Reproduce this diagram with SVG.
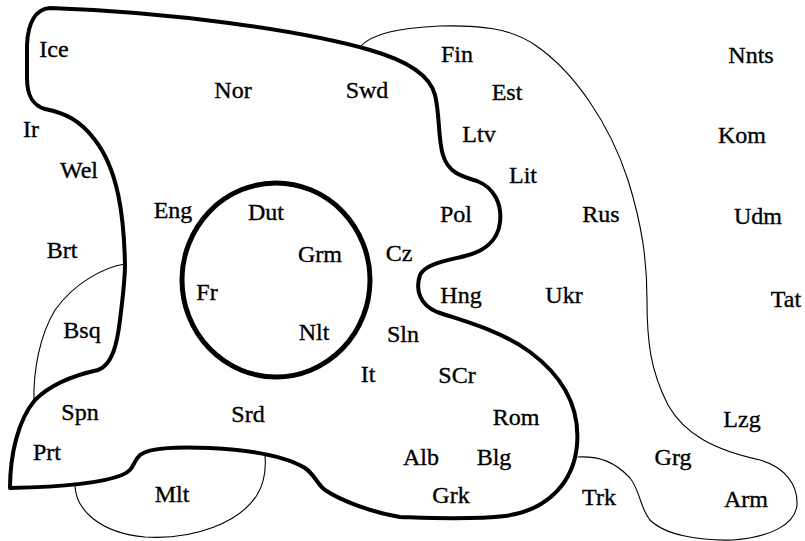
<svg xmlns="http://www.w3.org/2000/svg" width="805" height="541" viewBox="0 0 805 541">
<style>
.thick{fill:none;stroke:#000;stroke-width:4;stroke-linejoin:round;stroke-linecap:round}
.circ{fill:none;stroke:#000;stroke-width:5}
.thin{fill:none;stroke:#000;stroke-width:1.1;stroke-linecap:round}
text{font-family:"Liberation Serif","Times New Roman",serif;font-size:24px;fill:#000;stroke:#000;stroke-width:0.35;text-anchor:middle}
</style>
<rect width="805" height="541" fill="#fff"/>
<g id="regions">
<path id="thin-east" class="thin" d="M 360,47 C 372,33 400,28 440,26 C 480,25 510,28 535,45 C 575,72 610,125 628,180 C 642,225 647,260 647,300 C 647,340 650,370 668,405 C 685,435 715,450 760,460 C 785,467 798,485 797,505 C 795,525 770,537 733,540 C 700,541 665,535 650,520 C 640,508 640,490 630,478 C 615,462 600,456 578,457"/>
<path id="thin-bsq" class="thin" d="M 125,264 C 105,267 75,282 55,310 C 40,335 33,370 34,402"/>
<path id="thin-mlt" class="thin" d="M 75,486 C 76,510 100,533 145,537 C 195,540 240,522 257,495 C 265,482 266,468 265,456"/>
<path id="sae" class="thick" d="M 50,8 C 170,12 300,30 370,50 C 405,60 430,75 435,95 C 440,115 438,140 443,155 C 448,172 460,176 477,181 C 495,188 502,205 500,222 C 498,242 482,252 465,256 C 445,261 425,264 420,275 C 415,290 420,305 437,312 C 460,320 500,330 530,352 C 565,378 580,410 577,445 C 574,480 550,510 505,516 C 470,520 430,518 400,517 C 370,512 340,500 325,490 C 317,484 315,475 305,468 C 285,456 250,450 210,448 C 180,447 150,447 140,455 C 132,462 135,470 122,475 C 100,484 60,487 10,488 C 10,455 18,420 35,400 C 50,385 75,375 98,370 C 112,365 117,345 120,320 C 123,295 125,280 125,265 C 124,215 118,170 95,140 C 80,120 65,113 45,109 C 32,105 27,95 27,78 L 27,45 C 28,22 36,9 50,8 Z"/>
<ellipse id="core" class="circ" cx="276" cy="280" rx="94" ry="97"/>
</g>
<g id="labels">
<text id="Ice" x="54" y="57">Ice</text>
<text id="Nor" x="233" y="98">Nor</text>
<text id="Swd" x="367" y="98">Swd</text>
<text id="Fin" x="457" y="62">Fin</text>
<text id="Nnts" x="751" y="63">Nnts</text>
<text id="Est" x="507" y="100">Est</text>
<text id="Ir" x="31" y="137">Ir</text>
<text id="Ltv" x="479" y="142">Ltv</text>
<text id="Kom" x="742" y="143">Kom</text>
<text id="Wel" x="79" y="178">Wel</text>
<text id="Lit" x="523" y="183">Lit</text>
<text id="Eng" x="173" y="218">Eng</text>
<text id="Dut" x="266" y="220">Dut</text>
<text id="Pol" x="456" y="222">Pol</text>
<text id="Rus" x="601" y="222">Rus</text>
<text id="Udm" x="758" y="224">Udm</text>
<text id="Brt" x="62" y="258">Brt</text>
<text id="Grm" x="320" y="262">Grm</text>
<text id="Cz" x="399" y="261">Cz</text>
<text id="Fr" x="207" y="300">Fr</text>
<text id="Hng" x="461" y="303">Hng</text>
<text id="Ukr" x="564" y="303">Ukr</text>
<text id="Tat" x="786" y="307">Tat</text>
<text id="Bsq" x="82" y="338">Bsq</text>
<text id="Nlt" x="314" y="340">Nlt</text>
<text id="Sln" x="403" y="342">Sln</text>
<text id="It" x="368" y="382">It</text>
<text id="SCr" x="457" y="383">SCr</text>
<text id="Spn" x="80" y="420">Spn</text>
<text id="Srd" x="248" y="422">Srd</text>
<text id="Rom" x="516" y="425">Rom</text>
<text id="Lzg" x="742" y="427">Lzg</text>
<text id="Prt" x="47" y="460">Prt</text>
<text id="Alb" x="421" y="465">Alb</text>
<text id="Blg" x="494" y="465">Blg</text>
<text id="Grg" x="673" y="465">Grg</text>
<text id="Mlt" x="172" y="502">Mlt</text>
<text id="Grk" x="451" y="503">Grk</text>
<text id="Trk" x="599" y="505">Trk</text>
<text id="Arm" x="746" y="507">Arm</text>
</g>
</svg>
